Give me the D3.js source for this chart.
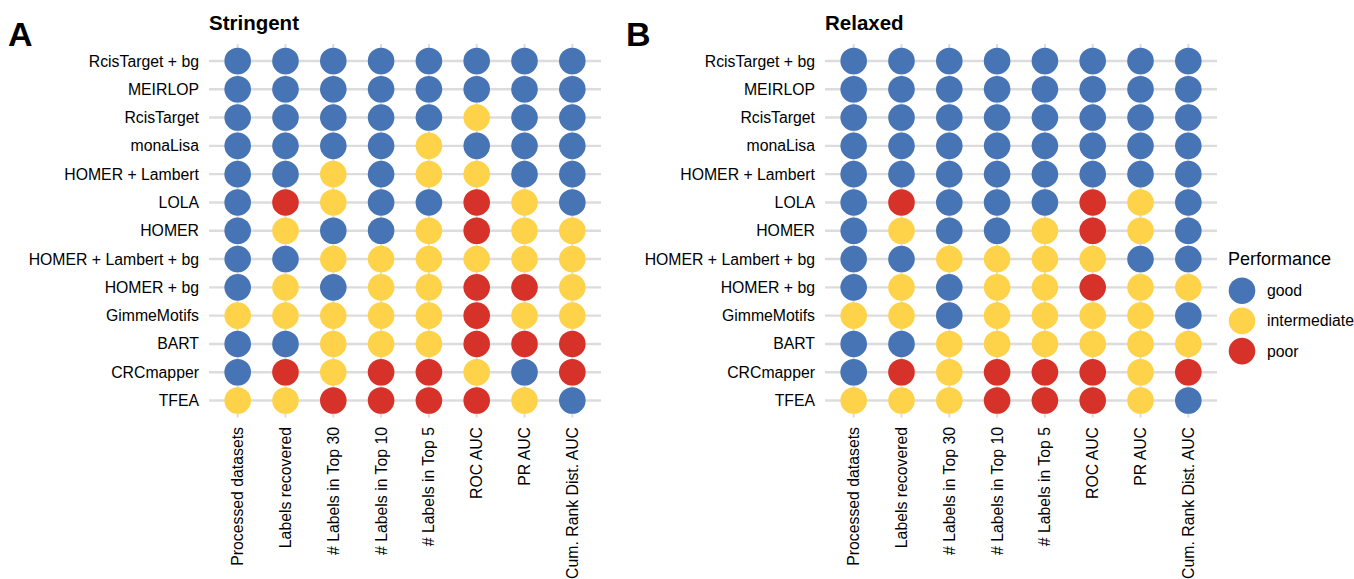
<!DOCTYPE html>
<html>
<head>
<meta charset="utf-8">
<script src="https://cdn.jsdelivr.net/npm/d3@7"></script>
<style>
  body { margin: 0; background: #fff; }
  svg text { font-family: "Liberation Sans", Arial, sans-serif; fill: #000; }
</style>
</head>
<body>
<svg id="chart" width="1354" height="579"></svg>
<script>
const methods = ["RcisTarget + bg", "MEIRLOP", "RcisTarget", "monaLisa", "HOMER + Lambert", "LOLA",
  "HOMER", "HOMER + Lambert + bg", "HOMER + bg", "GimmeMotifs", "BART", "CRCmapper", "TFEA"];
const metrics = ["Processed datasets", "Labels recovered", "# Labels in Top 30", "# Labels in Top 10",
  "# Labels in Top 5", "ROC AUC", "PR AUC", "Cum. Rank Dist. AUC"];
const levels = ["good", "intermediate", "poor"];
const colors = ["#4674b4", "#fed349", "#d73229"];

// g = good, i = intermediate, p = poor; one string per method, one letter per metric
const stringent = ["gggggggg", "gggggggg", "gggggigg", "ggggiggg", "ggigiigg", "gpiggpig",
  "giggipii", "ggiiiiii", "gigiippi", "iiiiipii", "ggiiippp", "gpippigp", "iippppig"];
const relaxed = ["gggggggg", "gggggggg", "gggggggg", "gggggggg", "gggggggg", "gpgggpig",
  "giggipig", "ggiiiigg", "gigiipii", "iigiiiig", "ggiiiiii", "gpipppip", "iiipppig"];

const codeToLevel = { g: "good", i: "intermediate", p: "poor" };
const color = d3.scaleOrdinal().domain(levels).range(colors);

const svg = d3.select("#chart");
const font = 15.8;
const r = 13.3;

function panel(letter, title, rows, left, letterX) {
  const plot = { l: left, r: left + 392, t: 44, b: 417.5 };
  // ggplot-style discrete expansion of 0.6 step on each side
  const x = d3.scalePoint().domain(metrics).range([plot.l, plot.r]).padding(0.6);
  const y = d3.scalePoint().domain(methods).range([plot.t, plot.b]).padding(0.6);

  const g = svg.append("g");
  const cells = [];
  rows.forEach((s, i) => s.split("").forEach((c, j) => cells.push({ method: methods[i], metric: metrics[j], level: codeToLevel[c] })));

  g.append("g").selectAll("line").data(metrics).enter().append("line")
    .attr("x1", d => x(d)).attr("x2", d => x(d))
    .attr("y1", plot.t).attr("y2", plot.b)
    .attr("stroke", "#dcdcdc").attr("stroke-width", 2);
  g.append("g").selectAll("line").data(methods).enter().append("line")
    .attr("x1", plot.l).attr("x2", plot.r)
    .attr("y1", d => y(d)).attr("y2", d => y(d))
    .attr("stroke", "#dcdcdc").attr("stroke-width", 2.4);

  g.append("g").selectAll("circle").data(cells).enter().append("circle")
    .attr("cx", d => x(d.metric)).attr("cy", d => y(d.method))
    .attr("r", r).attr("fill", d => color(d.level));

  g.append("g").selectAll("text").data(methods).enter().append("text")
    .attr("x", plot.l - 10).attr("y", d => y(d)).attr("dy", "0.35em")
    .attr("text-anchor", "end").attr("font-size", font).text(d => d);

  g.append("g").selectAll("text").data(metrics).enter().append("text")
    .attr("transform", d => `translate(${x(d)},${plot.b + 9.5}) rotate(-90)`)
    .attr("dy", "0.35em").attr("text-anchor", "end").attr("font-size", font).text(d => d);

  g.append("text").attr("x", plot.l).attr("y", 30).attr("font-size", 20.5)
    .attr("font-weight", "bold").text(title);
  g.append("text").attr("x", letterX).attr("y", 46).attr("font-size", 34)
    .attr("font-weight", "bold").text(letter);
}

panel("A", "Stringent", stringent, 209, 8);
panel("B", "Relaxed", relaxed, 825, 626);

// legend
const legend = svg.append("g").attr("transform", "translate(1228,0)");
legend.append("text").attr("x", 0).attr("y", 265).attr("font-size", 18).text("Performance");
const item = legend.selectAll("g.item").data(levels).enter().append("g")
  .attr("class", "item").attr("transform", (d, i) => `translate(0,${290.7 + i * 30.2})`);
item.append("circle").attr("cx", 14).attr("cy", 0).attr("r", r).attr("fill", d => color(d));
item.append("text").attr("x", 39).attr("y", 0).attr("dy", "0.35em").attr("font-size", font).text(d => d);
</script>
</body>
</html>
